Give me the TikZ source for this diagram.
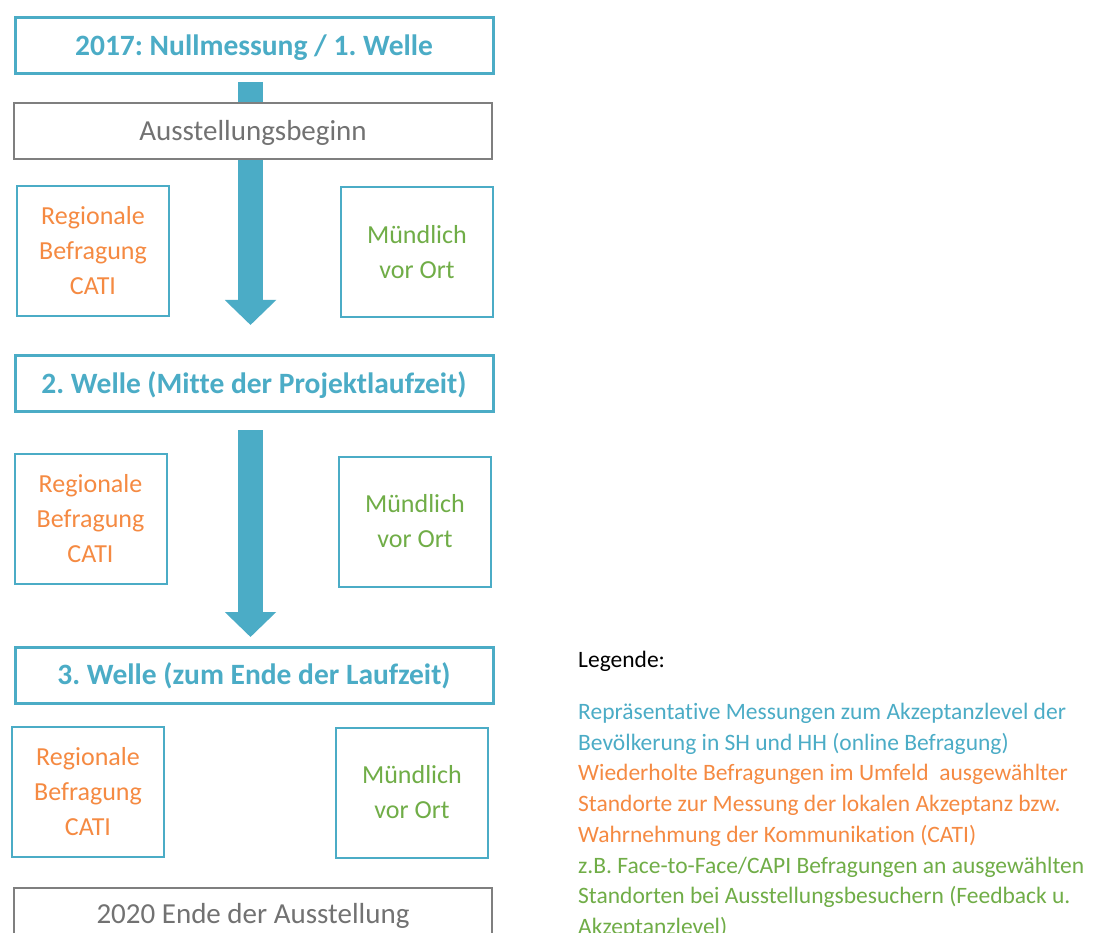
\documentclass[tikz,border=0pt]{standalone}
\usepackage{fontspec}
\setmainfont{Carlito}[Ligatures=NoCommon]
\usetikzlibrary{arrows.meta,backgrounds}

\definecolor{wave}{HTML}{4BACC6}
\definecolor{catiorange}{HTML}{F58A42}
\definecolor{oralgreen}{HTML}{70AD47}
\definecolor{exhgray}{HTML}{7F7F7F}
\frenchspacing

\begin{document}
\begin{tikzpicture}[x=1pt,y=-1pt]
\tikzset{
  wavebox/.style={rectangle,draw=wave,line width=3pt,minimum width=478pt,minimum height=56pt,inner sep=0pt,text height=19pt,text depth=0pt,text=wave,font=\fontsize{29.5}{35}\selectfont\bfseries},
  exhbox/.style={rectangle,draw=exhgray,line width=2pt,fill=white,minimum width=478pt,minimum height=56pt,inner sep=0pt,text height=19pt,text depth=0pt,text=exhgray!90!black,font=\fontsize{29}{35}\selectfont},
  catibox/.style={rectangle,draw=wave,line width=2pt,minimum width=152pt,minimum height=130pt,inner sep=0pt,align=center,text=catiorange,font=\fontsize{26}{35}\selectfont},
  oralbox/.style={catibox,text=oralgreen},
  flowarrow/.style={draw=wave,line width=25pt,-{Triangle[length=25pt,width=50pt]}},
  legendline/.style={anchor=base west,inner sep=0pt,font=\fontsize{23.5}{31}\selectfont}
}
\useasboundingbox (0,0) rectangle (1100,933);
% waves
\node[wavebox] (n_w1) at (254,46) {2017: Nullmessung / 1. Welle};
\node[exhbox] (n_start) at (253,131) {Ausstellungsbeginn};
\node[catibox] (n_cati1) at (93,251) {Regionale\\Befragung\\CATI};
\node[oralbox] (n_oral1) at (417,252) {Mündlich\\vor Ort};
\node[wavebox] (n_w2) at (254,383.5) {2. Welle (Mitte der Projektlaufzeit)};
\node[catibox] (n_cati2) at (90.5,519) {Regionale\\Befragung\\CATI};
\node[oralbox] (n_oral2) at (415,521.5) {Mündlich\\vor Ort};
\node[wavebox] (n_w3) at (254,675) {3. Welle (zum Ende der Laufzeit)};
\node[catibox] (n_cati3) at (88,791.5) {Regionale\\Befragung\\CATI};
\node[oralbox] (n_oral3) at (412,792.5) {Mündlich\\vor Ort};
\node[exhbox,minimum height=52pt] (n_end) at (253,914) {2020 Ende der Ausstellung};
% arrows behind the boxes
\coordinate (a1s) at (250.5,82);
\coordinate (a1e) at (250.5,325);
\coordinate (a2s) at (250.5,430);
\coordinate (a2e) at (250.5,637);
\begin{pgfonlayer}{background}
\fill[white] (0,0) rectangle (1100,933);
\draw[flowarrow] (a1s) -- (a1e);
\draw[flowarrow] (a2s) -- (a2e);
\end{pgfonlayer}
% legend
\node[legendline] (n_leg) at (578,667) {Legende:};
\node[legendline,text=wave] (n_l1) at (578,719) {Repräsentative Messungen zum Akzeptanzlevel der};
\node[legendline,text=wave] (n_l2) at (578,750) {Bevölkerung in SH und HH (online Befragung)};
\node[legendline,text=catiorange] (n_l3) at (578,780) {Wiederholte Befragungen im Umfeld \ ausgewählter};
\node[legendline,text=catiorange] (n_l4) at (578,811) {Standorte zur Messung der lokalen Akzeptanz bzw.};
\node[legendline,text=catiorange] (n_l5) at (578,842) {Wahrnehmung der Kommunikation (CATI)};
\node[legendline,text=oralgreen] (n_l6) at (578,873) {z.B. Face-to-Face/CAPI Befragungen an ausgewählten};
\node[legendline,text=oralgreen] (n_l7) at (578,903) {Standorten bei Ausstellungsbesuchern (Feedback u.};
\node[legendline,text=oralgreen] (n_l8) at (578,934) {Akzeptanzlevel)};
\end{tikzpicture}
\end{document}
